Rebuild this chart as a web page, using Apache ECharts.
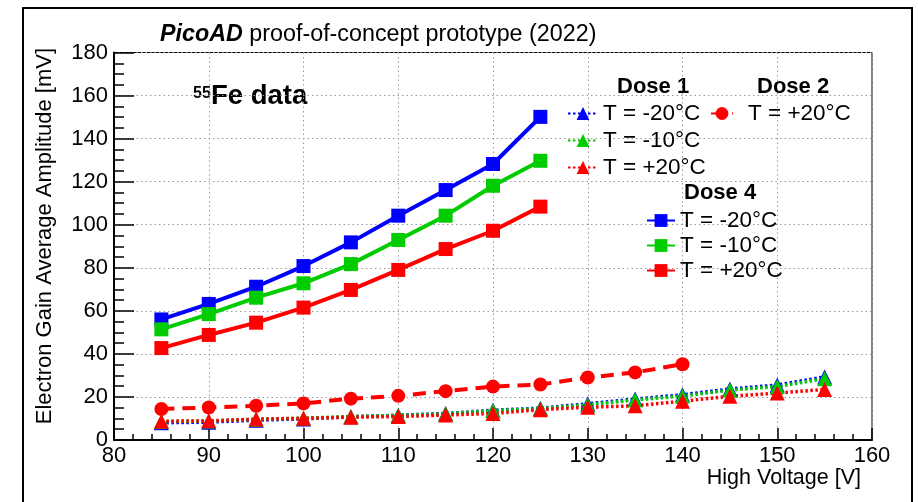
<!DOCTYPE html>
<html>
<head>
<meta charset="utf-8">
<script src="https://cdn.jsdelivr.net/npm/echarts@6/dist/echarts.min.js"></script>
<style>
  html, body { margin: 0; padding: 0; background: #fff; }
  #chart { width: 918px; height: 502px; }
</style>
</head>
<body>
<div id="chart"></div>
<script>
// Dose 4 (squares, solid lines)
const dose4Voltage = [85, 90, 95, 100, 105, 110, 115, 120, 125]
const dose4Minus20 = [56.0, 63.2, 71.2, 80.8, 91.8, 104.2, 116.1, 128.2, 150.1]
const dose4Minus10 = [51.4, 58.5, 66.1, 72.8, 81.7, 92.9, 104.2, 118.1, 129.7]
const dose4Plus20 = [42.7, 48.8, 54.5, 61.5, 69.7, 79.0, 88.7, 97.2, 108.4]

// Dose 2 (circles, dashed line)
const dose2Voltage = [85, 90, 95, 100, 105, 110, 115, 120, 125, 130, 135, 140]
const dose2Plus20 = [14.4, 15.1, 15.9, 17.0, 19.2, 20.5, 22.7, 24.8, 25.8, 29.0, 31.4, 35.2]

// Dose 1 (triangles, dotted lines)
const dose1Voltage = [85, 90, 95, 100, 105, 110, 115, 120, 125, 130, 135, 140, 145, 150, 155]
const dose1Minus20 = [8.0, 8.3, 9.2, 9.8, 10.8, 11.5, 12.3, 13.8, 14.8, 16.8, 19.0, 21.0, 23.7, 25.5, 29.3]
const dose1Minus10 = [8.6, 8.8, 9.6, 10.1, 10.9, 11.4, 12.2, 13.6, 14.6, 16.3, 18.6, 20.4, 23.2, 24.8, 28.5]
const dose1Plus20 = [8.7, 8.9, 9.7, 10.1, 10.6, 10.9, 11.6, 12.3, 14.1, 15.2, 15.9, 18.0, 20.3, 21.8, 23.5]

const xTicks = [80, 90, 100, 110, 120, 130, 140, 150, 160]
const yTicks = [0, 20, 40, 60, 80, 100, 120, 140, 160, 180]

const FONT = '"Liberation Sans", Arial, Helvetica, sans-serif'
const BLUE = '#0000ff'
const GREEN = '#00cc00'
const RED = '#ff0000'

const pairs = (xs, ys) => xs.map((x, i) => [x, ys[i]])
const legendText = name => name.split(', ')[1]

function dose1Series(name, color, values) {
  return {
    name: name,
    type: 'line',
    data: pairs(dose1Voltage, values),
    symbol: 'triangle',
    symbolSize: 15,
    itemStyle: { color: color },
    lineStyle: { color: color, width: 3.5, type: [2.5, 2.5] },
    z: 3
  }
}

function dose4Series(name, color, values) {
  return {
    name: name,
    type: 'line',
    data: pairs(dose4Voltage, values),
    symbol: 'rect',
    symbolSize: 14,
    itemStyle: { color: color },
    lineStyle: { color: color, width: 4 },
    z: 5
  }
}

const chart = echarts.init(document.getElementById('chart'))

chart.setOption({
  animation: false,
  textStyle: { fontFamily: FONT },
  title: {
    text: '{b|PicoAD} proof-of-concept prototype (2022)',
    left: 155,
    top: 18,
    textStyle: {
      fontFamily: FONT,
      fontSize: 23.3,
      fontWeight: 'normal',
      color: '#000',
      rich: {
        b: { fontFamily: FONT, fontSize: 23.3, fontWeight: 'bold', fontStyle: 'italic', color: '#000' }
      }
    }
  },
  grid: {
    left: 114,
    right: 46,
    top: 52.5,
    bottom: 62,
    show: true,
    borderColor: '#000',
    borderWidth: 1
  },
  legend: [
    {
      data: ['Dose 1, T = -20°C', 'Dose 1, T = -10°C', 'Dose 1, T = +20°C'],
      orient: 'vertical',
      left: 562,
      top: 97,
      itemWidth: 30,
      itemHeight: 16,
      itemGap: 4,
      selectedMode: false,
      formatter: legendText,
      textStyle: { fontFamily: FONT, fontSize: 22.5, color: '#000' }
    },
    {
      data: ['Dose 2, T = +20°C'],
      orient: 'vertical',
      left: 705,
      top: 97,
      itemWidth: 22,
      itemHeight: 16,
      selectedMode: false,
      formatter: legendText,
      textStyle: { fontFamily: FONT, fontSize: 22.5, color: '#000', padding: [0, 0, 0, 10] }
    },
    {
      data: ['Dose 4, T = -20°C', 'Dose 4, T = -10°C', 'Dose 4, T = +20°C'],
      orient: 'vertical',
      left: 641,
      top: 204,
      itemWidth: 28,
      itemHeight: 16,
      itemGap: 2,
      selectedMode: false,
      formatter: legendText,
      textStyle: { fontFamily: FONT, fontSize: 22.5, color: '#000' }
    }
  ],
  xAxis: {
    type: 'value',
    min: xTicks[0],
    max: xTicks[xTicks.length - 1],
    interval: 10,
    axisLine: { onZero: false, lineStyle: { color: '#000', width: 2 } },
    axisTick: { inside: true, length: 12, lineStyle: { color: '#000', width: 1.5 } },
    minorTick: { show: true, splitNumber: 5, length: 6, lineStyle: { color: '#000', width: 1.5 } },
    axisLabel: {
      margin: 5,
      fontFamily: FONT,
      fontSize: 22,
      color: '#000',
      customValues: xTicks
    },
    splitLine: { show: true, lineStyle: { color: '#999', width: 1, type: [1.5, 3] } }
  },
  yAxis: {
    type: 'value',
    min: yTicks[0],
    max: yTicks[yTicks.length - 1],
    interval: 20,
    axisLine: { show: true, lineStyle: { color: '#000', width: 2 } },
    axisTick: { show: true, inside: true, length: 20, lineStyle: { color: '#000', width: 1.5 } },
    minorTick: { show: true, splitNumber: 4, length: 10, lineStyle: { color: '#000', width: 1.5 } },
    axisLabel: {
      margin: 6,
      fontFamily: FONT,
      fontSize: 22,
      color: '#000'
    },
    splitLine: { show: true, lineStyle: { color: '#999', width: 1, type: [1.5, 3] } }
  },
  graphic: [
    {
      type: 'rect',
      shape: { x: 23, y: 8, width: 889, height: 520 },
      style: { fill: 'none', stroke: '#000', lineWidth: 2 },
      silent: true
    },
    {
      type: 'text',
      style: { x: 193, y: 86, text: '55', font: 'bold 16px ' + FONT, fill: '#000', textVerticalAlign: 'top' }
    },
    {
      type: 'text',
      style: { x: 211, y: 110, text: 'Fe data', font: 'bold 27.5px ' + FONT, fill: '#000', textVerticalAlign: 'bottom' }
    },
    {
      type: 'text',
      style: { x: 617, y: 87, text: 'Dose 1', font: 'bold 22px ' + FONT, fill: '#000', textVerticalAlign: 'middle' }
    },
    {
      type: 'text',
      style: { x: 757, y: 87, text: 'Dose 2', font: 'bold 22px ' + FONT, fill: '#000', textVerticalAlign: 'middle' }
    },
    {
      type: 'text',
      style: { x: 684, y: 193, text: 'Dose 4', font: 'bold 22px ' + FONT, fill: '#000', textVerticalAlign: 'middle' }
    },
    {
      type: 'text',
      x: 45,
      y: 48,
      rotation: Math.PI / 2,
      style: {
        x: 0, y: 0,
        text: 'Electron Gain Average Amplitude [mV]',
        font: '22px ' + FONT,
        fill: '#000',
        textAlign: 'right',
        textVerticalAlign: 'middle'
      }
    },
    {
      type: 'text',
      style: {
        x: 861, y: 478,
        text: 'High Voltage [V]',
        font: '21.5px ' + FONT,
        fill: '#000',
        textAlign: 'right',
        textVerticalAlign: 'middle'
      }
    }
  ],
  series: [
    dose1Series('Dose 1, T = -20°C', BLUE, dose1Minus20),
    dose1Series('Dose 1, T = -10°C', GREEN, dose1Minus10),
    dose1Series('Dose 1, T = +20°C', RED, dose1Plus20),
    {
      name: 'Dose 2, T = +20°C',
      type: 'line',
      data: pairs(dose2Voltage, dose2Plus20),
      symbol: 'circle',
      symbolSize: 14,
      itemStyle: { color: RED },
      lineStyle: { color: RED, width: 4, type: [13, 8] },
      z: 4
    },
    dose4Series('Dose 4, T = -20°C', BLUE, dose4Minus20),
    dose4Series('Dose 4, T = -10°C', GREEN, dose4Minus10),
    dose4Series('Dose 4, T = +20°C', RED, dose4Plus20)
  ]
})
</script>
</body>
</html>
